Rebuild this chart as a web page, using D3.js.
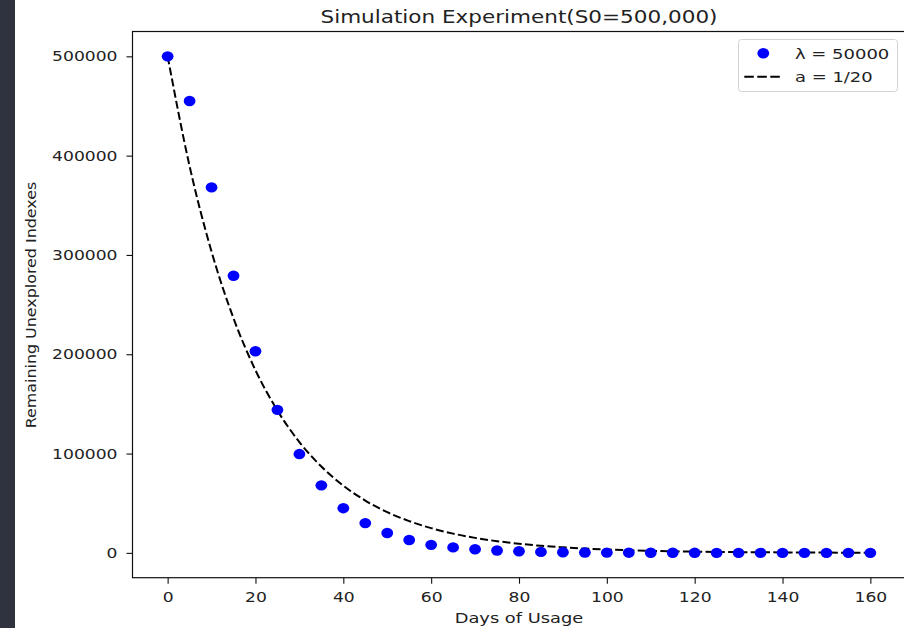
<!DOCTYPE html>
<html>
<head>
<meta charset="utf-8">
<script src="https://cdn.jsdelivr.net/npm/d3@7"></script>
<style>
  html, body { margin: 0; padding: 0; background: #ffffff; }
  svg { display: block; }
  text { font-family: "DejaVu Sans", sans-serif; fill: #222; }
</style>
</head>
<body>
<svg id="chart" width="904" height="628"></svg>
<script>
// ---- data ----
const days = [0,5,10,15,20,25,30,35,40,45,50,55,60,65,70,75,80,85,90,95,100,105,110,115,120,125,130,135,140,145,150,155,160];
const simulated = [500000,455000,368000,279000,203000,144000,99500,68000,45000,30000,20000,13000,8100,5500,3600,2400,1600,1000,650,420,280,180,120,80,50,35,22,15,10,6,4,3,2];
const modelCurve = [500000,389400,303300,236200,183900,143300,111600,86900,67700,52700,41000,32000,24900,19400,15100,11800,9200,7100,5600,4300,3400,2600,2000,1600,1200,970,750,590,460,360,280,220,170];
const xTicks = [0,20,40,60,80,100,120,140,160];
const yTicks = [0,100000,200000,300000,400000,500000];
const titleText = "Simulation Experiment(S0=500,000)";
const xLabel = "Days of Usage";
const yLabel = "Remaining Unexplored Indexes";
const legendLabels = ["λ = 50000", "a = 1/20"];

// ---- layout ----
const svg = d3.select("#chart");
const L = 132.5, R = 905.5, T = 31.5, B = 577.7;
const fs = 14.5;       // tick / label font size
const digitW = 10.9;   // horizontally stretched digit width

svg.append("rect").attr("x", 0).attr("y", 0).attr("width", 15).attr("height", 628).attr("fill", "#2f3340");

const x = d3.scaleLinear().domain([-8, 168]).range([L, R]);
const y = d3.scaleLinear().domain([-25000, 525000]).range([B, T]);

// axes
const gx = svg.append("g").attr("transform", `translate(0,${B})`)
  .call(d3.axisBottom(x).tickValues(xTicks).tickSize(6).tickSizeOuter(0).tickPadding(8).tickFormat(d3.format("d")));
const gy = svg.append("g").attr("transform", `translate(${L},0)`)
  .call(d3.axisLeft(y).tickValues(yTicks).tickSize(6).tickSizeOuter(0).tickPadding(9).tickFormat(d3.format("d")));
[gx, gy].forEach(g => {
  g.select(".domain").remove();
  g.selectAll(".tick line").attr("stroke", "#111").attr("stroke-width", 1.1);
  g.selectAll(".tick text")
    .attr("font-family", "DejaVu Sans, sans-serif")
    .attr("font-size", fs)
    .attr("fill", "#222")
    .attr("textLength", function(d) { return String(d).length * digitW; })
    .attr("lengthAdjust", "spacingAndGlyphs");
});

// frame (spines)
svg.append("rect").attr("x", L).attr("y", T).attr("width", R - L).attr("height", B - T)
  .attr("fill", "none").attr("stroke", "#111").attr("stroke-width", 1.2);

// model curve
const line = d3.line().x((d, i) => x(days[i])).y(d => y(d)).curve(d3.curveMonotoneX);
svg.append("path").datum(modelCurve)
  .attr("d", line)
  .attr("fill", "none").attr("stroke", "#000").attr("stroke-width", 2)
  .attr("stroke-dasharray", "8,3.3");

// simulated points (drawn on top of the curve)
svg.append("g").selectAll("ellipse").data(simulated).join("ellipse")
  .attr("cx", (d, i) => x(days[i]))
  .attr("cy", d => y(d))
  .attr("rx", 5.9).attr("ry", 5.2)
  .attr("fill", "#0000ff");

// title and labels
svg.append("text").attr("x", (L + R) / 2).attr("y", 22.5)
  .attr("text-anchor", "middle").attr("font-size", 17.5)
  .attr("textLength", 397).attr("lengthAdjust", "spacingAndGlyphs")
  .text(titleText);
svg.append("text").attr("x", (L + R) / 2).attr("y", 623.3)
  .attr("text-anchor", "middle").attr("font-size", 14.7)
  .attr("textLength", 128.7).attr("lengthAdjust", "spacingAndGlyphs")
  .text(xLabel);
svg.append("text").attr("transform", "translate(35.7,305) rotate(-90)")
  .attr("text-anchor", "middle").attr("font-size", 14.5)
  .attr("textLength", 246.6).attr("lengthAdjust", "spacingAndGlyphs")
  .text(yLabel);

// legend
const lg = svg.append("g");
lg.append("rect").attr("x", 738.5).attr("y", 39.5).attr("width", 159).attr("height", 52)
  .attr("rx", 3).attr("fill", "#fff").attr("fill-opacity", 0.85)
  .attr("stroke", "#d3d3d3").attr("stroke-width", 1);
lg.append("ellipse").attr("cx", 763.3).attr("cy", 53.3).attr("rx", 5.9).attr("ry", 5.2).attr("fill", "#0000ff");
lg.append("line").attr("x1", 744.3).attr("x2", 781).attr("y1", 76.7).attr("y2", 76.7)
  .attr("stroke", "#000").attr("stroke-width", 2).attr("stroke-dasharray", "9.5,3.5");
lg.append("text").attr("x", 795).attr("y", 58.6).attr("font-size", fs)
  .attr("textLength", 94.3).attr("lengthAdjust", "spacingAndGlyphs").text(legendLabels[0]);
lg.append("text").attr("x", 795).attr("y", 82.4).attr("font-size", fs)
  .attr("textLength", 77.7).attr("lengthAdjust", "spacingAndGlyphs").text(legendLabels[1]);
</script>
</body>
</html>
